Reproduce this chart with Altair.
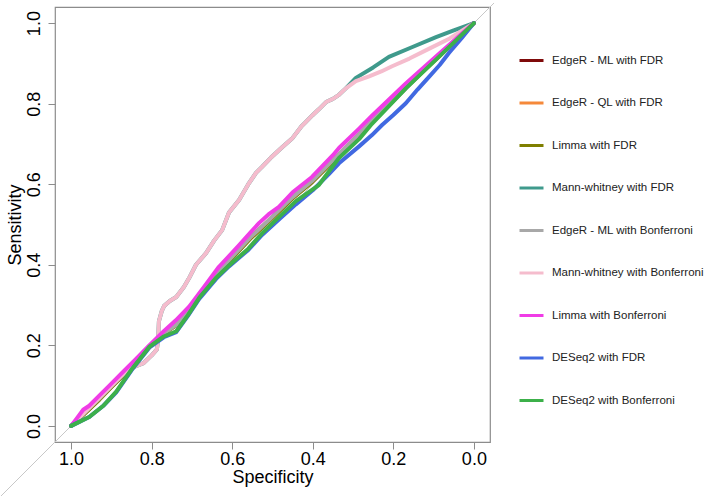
import altair as alt
import pandas as pd

# ---------------- data ----------------
methods = [
    "EdgeR - ML with FDR",
    "EdgeR - QL with FDR",
    "Limma with FDR",
    "Mann-whitney with FDR",
    "EdgeR - ML with Bonferroni",
    "Mann-whitney with Bonferroni",
    "Limma with Bonferroni",
    "DESeq2 with FDR",
    "DESeq2 with Bonferroni",
]
colors = ["#7f0a0a", "#f5893a", "#7f7f00", "#3f9a8c", "#a8a8a8",
          "#f5bccd", "#f03ce6", "#4169e1", "#3cb04a"]

edger_spec = [1, 0.97, 0.93, 0.9, 0.87, 0.84, 0.806, 0.77, 0.74, 0.707, 0.67, 0.633,
              0.6, 0.555, 0.51, 0.484, 0.45, 0.402, 0.35, 0.285, 0.253, 0.169, 0.085, 0]
edger_ml_fdr_sens = [0, 0.029, 0.067, 0.097, 0.127, 0.159, 0.197, 0.229, 0.251, 0.289, 0.339, 0.384,
                     0.419, 0.467, 0.509, 0.534, 0.567, 0.607, 0.659, 0.723, 0.756, 0.842, 0.92, 1]
edger_ql_fdr_sens = [0, 0.028, 0.066, 0.097, 0.127, 0.158, 0.197, 0.228, 0.252, 0.292, 0.338, 0.383,
                     0.418, 0.466, 0.508, 0.533, 0.566, 0.606, 0.658, 0.722, 0.755, 0.841, 0.92, 1]
limma_fdr_sens = [0, 0.027, 0.065, 0.096, 0.126, 0.157, 0.196, 0.229, 0.249, 0.288, 0.337, 0.382,
                  0.417, 0.465, 0.507, 0.532, 0.565, 0.605, 0.657, 0.721, 0.754, 0.84, 0.919, 1]
edger_ml_bonf_sens = [0, 0.03, 0.068, 0.098, 0.128, 0.16, 0.198, 0.23, 0.25, 0.29, 0.34, 0.385,
                      0.42, 0.468, 0.51, 0.535, 0.568, 0.608, 0.66, 0.725, 0.758, 0.843, 0.921, 1]

mw_bonf_spec = [1.0, 0.95, 0.9, 0.86, 0.82, 0.80, 0.787, 0.784, 0.782, 0.775, 0.769, 0.755, 0.739,
                0.72, 0.707, 0.69, 0.665, 0.645, 0.625, 0.608, 0.583, 0.56, 0.541, 0.526, 0.505,
                0.476, 0.45, 0.427, 0.417, 0.40, 0.385, 0.367, 0.35, 0.335, 0.318, 0.293, 0.26,
                0.23, 0.203, 0.16, 0.112, 0.06, 0.0]
mw_bonf_sens = [0, 0.05, 0.1, 0.14, 0.156, 0.175, 0.19, 0.213, 0.26, 0.285, 0.298, 0.31, 0.32,
                0.345, 0.367, 0.40, 0.429, 0.46, 0.486, 0.53, 0.561, 0.60, 0.628, 0.643, 0.665,
                0.692, 0.715, 0.745, 0.755, 0.772, 0.786, 0.804, 0.812, 0.822, 0.838, 0.856, 0.868,
                0.88, 0.893, 0.912, 0.936, 0.962, 1.0]

mw_fdr_spec = [1.0, 0.95, 0.9, 0.86, 0.82, 0.80, 0.787, 0.784, 0.782, 0.775, 0.769, 0.755, 0.739,
               0.72, 0.707, 0.69, 0.665, 0.645, 0.625, 0.608, 0.583, 0.56, 0.541, 0.526, 0.505,
               0.476, 0.45, 0.427, 0.417, 0.40, 0.385, 0.367, 0.35, 0.335, 0.318, 0.293, 0.25,
               0.211, 0.154, 0.094, 0.05, 0.0]
mw_fdr_sens = [0, 0.05, 0.1, 0.14, 0.156, 0.175, 0.19, 0.213, 0.26, 0.285, 0.298, 0.31, 0.32,
               0.345, 0.367, 0.40, 0.429, 0.46, 0.486, 0.53, 0.561, 0.60, 0.628, 0.643, 0.665,
               0.692, 0.715, 0.745, 0.755, 0.772, 0.786, 0.804, 0.812, 0.822, 0.838, 0.864, 0.89,
               0.916, 0.94, 0.965, 0.982, 1.0]

limma_bonf_spec = [1.0, 0.985, 0.97, 0.955, 0.93, 0.9, 0.87, 0.84, 0.806, 0.77, 0.74, 0.707, 0.67,
                   0.633, 0.6, 0.58, 0.555, 0.533, 0.51, 0.484, 0.45, 0.402, 0.35, 0.335, 0.285,
                   0.253, 0.169, 0.085, 0.0]
limma_bonf_sens = [0, 0.02, 0.04, 0.05, 0.075, 0.105, 0.135, 0.165, 0.2, 0.235, 0.262, 0.296, 0.345,
                   0.395, 0.43, 0.452, 0.48, 0.504, 0.525, 0.544, 0.58, 0.618, 0.672, 0.69, 0.738,
                   0.77, 0.85, 0.925, 1.0]

deseq_fdr_spec = [1, 0.98, 0.955, 0.92, 0.888, 0.85, 0.806, 0.77, 0.739, 0.71, 0.682, 0.64, 0.608,
                  0.56, 0.526, 0.48, 0.442, 0.40, 0.36, 0.335, 0.285, 0.253, 0.228, 0.2, 0.169,
                  0.14, 0.112, 0.085, 0.062, 0.03, 0]
deseq_fdr_sens = [0, 0.01, 0.022, 0.05, 0.083, 0.138, 0.194, 0.22, 0.233, 0.273, 0.315, 0.365, 0.396,
                  0.437, 0.474, 0.516, 0.55, 0.585, 0.625, 0.652, 0.694, 0.722, 0.747, 0.772, 0.801,
                  0.835, 0.866, 0.896, 0.926, 0.963, 1]

deseq_bonf_spec = [1, 0.98, 0.955, 0.92, 0.888, 0.85, 0.806, 0.77, 0.739, 0.71, 0.682, 0.64, 0.608,
                   0.56, 0.526, 0.48, 0.442, 0.385, 0.335, 0.285, 0.253, 0.169, 0.085, 0]
deseq_bonf_sens = [0, 0.01, 0.022, 0.05, 0.085, 0.14, 0.196, 0.222, 0.235, 0.275, 0.318, 0.368, 0.398,
                   0.44, 0.478, 0.522, 0.558, 0.598, 0.665, 0.712, 0.75, 0.838, 0.918, 1]

diag_spec = [1.18, -0.05]
diag_sens = [-0.18, 1.05]

series = [
    (methods[0], edger_spec, edger_ml_fdr_sens),
    (methods[1], edger_spec, edger_ql_fdr_sens),
    (methods[2], edger_spec, limma_fdr_sens),
    (methods[3], mw_fdr_spec, mw_fdr_sens),
    (methods[4], edger_spec, edger_ml_bonf_sens),
    (methods[5], mw_bonf_spec, mw_bonf_sens),
    (methods[6], limma_bonf_spec, limma_bonf_sens),
    (methods[7], deseq_fdr_spec, deseq_fdr_sens),
    (methods[8], deseq_bonf_spec, deseq_bonf_sens),
]

rows = []
for name, sp, se in series:
    for i, (a, b) in enumerate(zip(sp, se)):
        rows.append({"method": name, "spec": a, "sens": b, "idx": i})
df = pd.DataFrame(rows)
diag_df = pd.DataFrame({"spec": diag_spec, "sens": diag_sens})

FONT = "Liberation Sans"
tick_vals = [0, 0.2, 0.4, 0.6, 0.8, 1.0]

xscale = alt.Scale(domain=[-0.04, 1.04], reverse=True, nice=False, zero=False)
yscale = alt.Scale(domain=[-0.04, 1.04], nice=False, zero=False)

xaxis = alt.Axis(values=tick_vals, format=".1f", title="Specificity", domain=False,
                 grid=False, tickColor="#8c8c8c", tickSize=7, labelFontSize=18,
                 labelColor="black", labelFont=FONT, labelPadding=1, titleFont=FONT,
                 titleFontSize=18, titleFontWeight="normal", titleColor="black",
                 titlePadding=0, labelFlush=False)
yaxis = alt.Axis(values=tick_vals, format=".1f", title="Sensitivity", domain=False,
                 grid=False, tickColor="#8c8c8c", tickSize=7, labelFontSize=18,
                 labelColor="black", labelFont=FONT, labelAngle=270, labelAlign="center",
                 labelBaseline="bottom", labelPadding=5, titleFont=FONT, titleFontSize=18,
                 titleFontWeight="normal", titleColor="black", titlePadding=1, labelFlush=False)

color = alt.Color("method:N",
                  scale=alt.Scale(domain=methods, range=colors),
                  legend=alt.Legend(title=None, orient="none", legendX=463, legendY=40,
                                    symbolType="stroke", symbolSize=576, symbolStrokeWidth=3,
                                    labelFont=FONT, labelFontSize=11.5, labelColor="#222222",
                                    labelOffset=7, rowPadding=22.5, padding=0,
                                    labelLimit=300))

diag = alt.Chart(diag_df).mark_line(color="#c8c8c8", strokeWidth=1, clip=False).encode(
    x=alt.X("spec:Q", scale=xscale, axis=xaxis),
    y=alt.Y("sens:Q", scale=yscale, axis=yaxis),
)

layers = [diag]
for name in methods:
    layers.append(
        alt.Chart(df).transform_filter(alt.datum.method == name)
        .mark_line(strokeWidth=4, strokeCap="round", strokeJoin="round")
        .encode(
            x=alt.X("spec:Q", scale=xscale, axis=xaxis),
            y=alt.Y("sens:Q", scale=yscale, axis=yaxis),
            color=color,
            order=alt.Order("idx:Q"),
        )
    )

chart = alt.layer(*layers).properties(
    width=435, height=435,
    padding={"left": 55, "top": 7, "right": 219, "bottom": 54},
    autosize=alt.AutoSizeParams(type="none"),
    background="white",
).configure_view(stroke="#8c8c8c", strokeWidth=1.2)

chart.save("out.html", embed_options={"renderer": "svg", "actions": False})
